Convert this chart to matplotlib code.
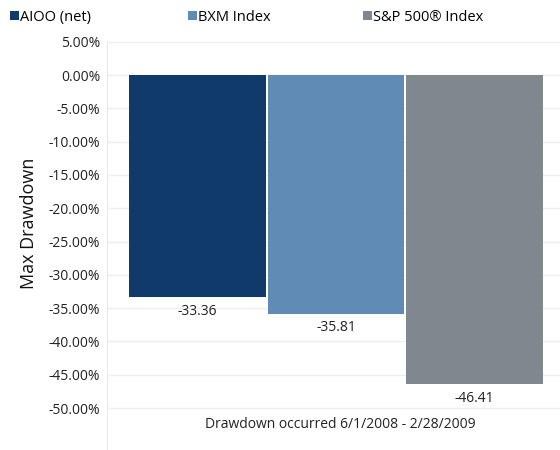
import matplotlib
matplotlib.use("Agg")
import matplotlib.pyplot as plt
import numpy as np

plt.rcParams['font.family'] = ['Open Sans', 'DejaVu Sans']

# data
series = ['AIOO (net)', 'BXM Index', 'S&P 500® Index']
values = [-33.36, -35.81, -46.41]
colors = ['#0f3a69', '#5f8bb5', '#7f888f']
category = 'Drawdown occurred 6/1/2008 - 2/28/2009'
yticks = np.arange(-50, 6, 5)

fig = plt.figure(figsize=(5.6, 4.5), dpi=100)
ax = fig.add_axes([107 / 560, 0.0, 458 / 560, 1 - 41.7 / 450])

width = 0.299
offsets = [-0.302, 0.0, 0.302]
handles = []
for name, val, col, off in zip(series, values, colors, offsets):
    bars = ax.bar(off, val, width, color=col, label=name, zorder=3)
    ax.bar_label(bars, fmt='%.2f', padding=5, fontsize=10, color='#222222')
    handles.append(bars)

ax.set_xlim(-0.5, 0.5)
ax.set_ylim(-56.3, 5)
ax.set_yticks(yticks)
ax.set_yticklabels(['%.2f%%' % t for t in yticks], fontsize=10, color='#222222')
ax.set_xticks([])
ax.tick_params(axis='y', length=0, pad=5)
ax.grid(axis='y', color='#eeeeee', linewidth=1, zorder=0)
for s in ['top', 'right', 'bottom']:
    ax.spines[s].set_visible(False)
ax.spines['left'].set_color('#eaeaea')

ax.text(0.01, -52.4, category, ha='center', va='center', fontsize=10, color='#222222')
ax.set_ylabel('Max Drawdown', fontsize=13, color='#111111')
ax.yaxis.set_label_coords(-0.151, 0.556)

# legend entries sit at fixed spots along the top
legend_x = [10, 188, 363]
for h, name, lx in zip(handles, series, legend_x):
    fig.legend([h], [name], loc='upper left', bbox_to_anchor=(lx / 560, 1 - 10 / 450),
               frameon=False, fontsize=10.5, handlelength=0.6, handleheight=0.6,
               handletextpad=0.1, borderaxespad=0, borderpad=0)

fig.savefig('out.png', dpi=100)
